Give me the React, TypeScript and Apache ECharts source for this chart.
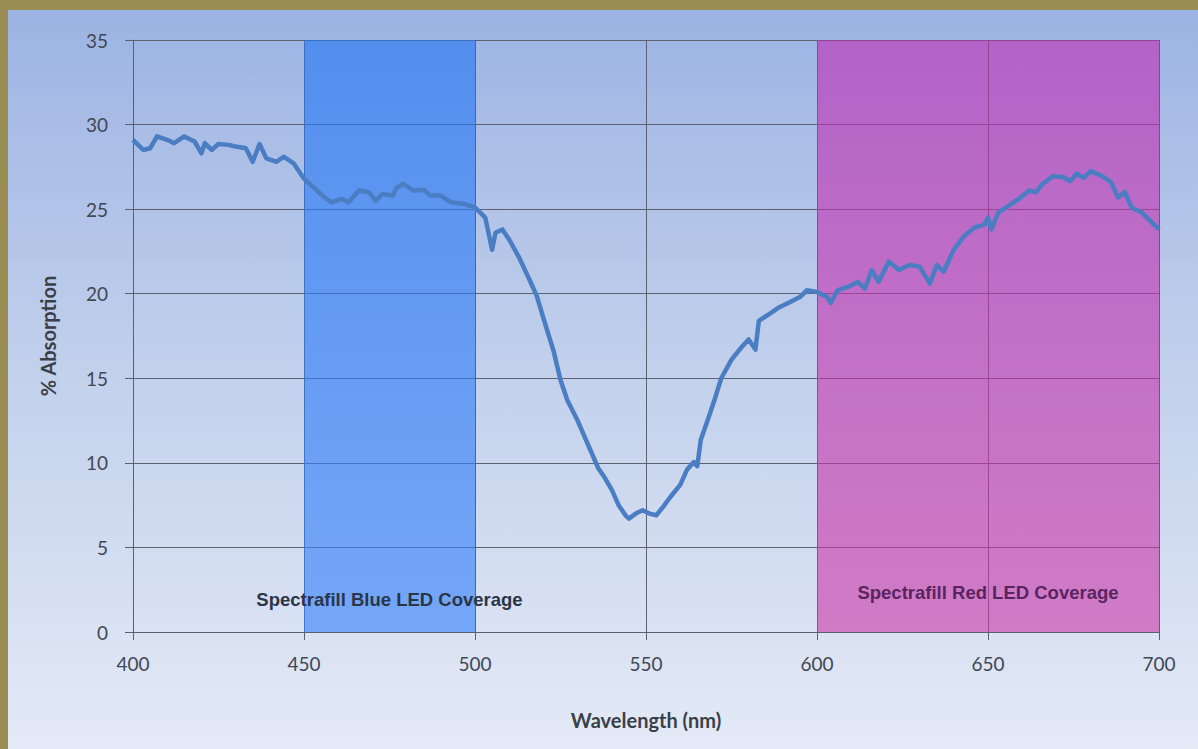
import React, { useEffect, useRef } from "react";
import * as echarts from "echarts";

const wavelengths = [
  400, 403, 405, 407, 410, 412, 415, 418, 420, 421, 423, 425, 428, 430, 433, 435, 437, 439, 442, 444, 447,
  450, 453, 456, 458, 461, 463, 466, 469, 471, 473, 476, 477, 479, 482, 485, 487, 490, 493, 497,
  500, 503, 505, 506, 508, 510, 513, 516, 518, 521, 523, 525, 527, 530, 533, 536, 538, 540, 542, 544, 545, 547, 549,
  551, 553, 555, 557, 560, 562, 564, 565, 566, 568, 570, 572, 575, 578, 580, 582, 583, 586, 589, 592, 595, 597,
  600, 603, 604, 606, 609, 612, 614, 616, 618, 621, 624, 627, 630, 633, 635, 637, 640, 643, 646, 649,
  650, 651, 653, 656, 659, 662, 664, 666, 669, 672, 674, 676, 678, 680, 683, 686, 688, 690, 692, 695, 697, 700,
];
const absorption = [
  29.1, 28.5, 28.6, 29.3, 29.1, 28.9, 29.3, 29.0, 28.3, 28.9, 28.5, 28.85, 28.8, 28.7, 28.6, 27.8, 28.85, 28.0, 27.8, 28.1, 27.7,
  26.8, 26.25, 25.7, 25.4, 25.6, 25.4, 26.1, 26.0, 25.5, 25.9, 25.8, 26.25, 26.5, 26.1, 26.15, 25.8, 25.8, 25.4, 25.3,
  25.1, 24.5, 22.6, 23.6, 23.8, 23.2, 22.1, 20.8, 19.9, 17.9, 16.6, 14.9, 13.7, 12.5, 11.1, 9.7, 9.1, 8.4, 7.5, 6.9, 6.7, 7.0, 7.2,
  7.0, 6.9, 7.4, 7.95, 8.7, 9.6, 10.05, 9.8, 11.35, 12.5, 13.7, 15.0, 16.1, 16.85, 17.3, 16.7, 18.4, 18.8, 19.2, 19.5, 19.8, 20.2,
  20.1, 19.8, 19.45, 20.2, 20.4, 20.7, 20.3, 21.4, 20.7, 21.9, 21.4, 21.7, 21.6, 20.6, 21.7, 21.3, 22.6, 23.4, 23.9, 24.1,
  24.5, 23.8, 24.8, 25.2, 25.6, 26.1, 26.0, 26.5, 26.95, 26.9, 26.65, 27.1, 26.85, 27.25, 27.0, 26.6, 25.7, 26.0, 25.1, 24.8, 24.4, 23.8,
];

const xTicks = { min: 400, max: 700, interval: 50 };
const yTicks = { min: 0, max: 35, interval: 5 };

const blueBand = [450, 500];
const redBand = [600, 700];
const blueLabel = "Spectrafill Blue LED Coverage";
const redLabel = "Spectrafill Red LED Coverage";

export default function App() {
  const ref = useRef<HTMLDivElement>(null);
  useEffect(() => {
    if (!ref.current) return;
    const chart = echarts.init(ref.current, undefined, { renderer: "svg" });
    const font = "Lato, 'Open Sans', sans-serif";
    const bandFont = "'Liberation Sans', Arial, sans-serif";
    chart.setOption({
      animation: false,
      backgroundColor: new echarts.graphic.LinearGradient(0, 0, 0, 1, [
        { offset: 0, color: "#9cb3e3" },
        { offset: 0.5, color: "#c3d1ec" },
        { offset: 1, color: "#e4eaf6" },
      ]),
      grid: { left: 125, top: 30, right: 39, bottom: 117 },
      xAxis: {
        type: "value",
        min: xTicks.min,
        max: xTicks.max,
        interval: xTicks.interval,
        name: "Wavelength (nm)",
        nameLocation: "middle",
        nameGap: 78,
        nameTextStyle: { fontFamily: font, fontWeight: "bold", fontSize: 20, color: "#3a3f48" },
        axisLine: { show: true, lineStyle: { color: "#5a606c", width: 1 } },
        axisTick: { show: true, length: 8, lineStyle: { color: "#5a606c" } },
        axisLabel: { fontFamily: font, fontSize: 19, color: "#414854", margin: 22 },
        splitLine: { show: true, lineStyle: { color: "#5c6370", width: 1 } },
      },
      yAxis: {
        type: "value",
        min: yTicks.min,
        max: yTicks.max,
        interval: yTicks.interval,
        name: "% Absorption",
        nameLocation: "middle",
        nameGap: 75,
        nameTextStyle: { fontFamily: font, fontWeight: "bold", fontSize: 20, color: "#3a3f48" },
        axisLine: { show: true, lineStyle: { color: "#5a606c", width: 1 } },
        axisTick: { show: true, length: 8, lineStyle: { color: "#5a606c" } },
        axisLabel: { fontFamily: font, fontSize: 19, color: "#414854", margin: 25 },
        splitLine: { show: true, lineStyle: { color: "#5c6370", width: 1 } },
      },
      series: [
        {
          type: "line",
          data: wavelengths.map((w, i) => [w, absorption[i]]),
          showSymbol: false,
          smooth: false,
          z: 2,
          lineStyle: { color: "#4a7dc1", width: 4.5, join: "round" },
        },
        {
          type: "line",
          data: [],
          z: 5,
          silent: true,
          markArea: {
            silent: true,
            data: [
              [
                {
                  xAxis: blueBand[0],
                  yAxis: yTicks.min,
                  itemStyle: {
                    color: new echarts.graphic.LinearGradient(0, 0, 0, 1, [
                      { offset: 0, color: "rgba(37,118,244,0.62)" },
                      { offset: 1, color: "rgba(54,130,250,0.62)" },
                    ]),
                  },
                  label: {
                    show: true,
                    formatter: blueLabel,
                    position: "insideBottom",
                    distance: 23,
                    fontFamily: bandFont,
                    fontWeight: "bold",
                    fontSize: 18.5,
                    color: "#2b3548",
                  },
                },
                { xAxis: blueBand[1], yAxis: yTicks.max },
              ],
              [
                {
                  xAxis: redBand[0],
                  yAxis: yTicks.min,
                  itemStyle: {
                    color: new echarts.graphic.LinearGradient(0, 0, 0, 1, [
                      { offset: 0, color: "rgba(190,44,180,0.6)" },
                      { offset: 1, color: "rgba(202,54,168,0.6)" },
                    ]),
                  },
                  label: {
                    show: true,
                    formatter: redLabel,
                    position: "insideBottom",
                    distance: 30,
                    fontFamily: bandFont,
                    fontWeight: "bold",
                    fontSize: 18.5,
                    color: "#5a2460",
                  },
                },
                { xAxis: redBand[1], yAxis: yTicks.max },
              ],
            ],
          },
        },
      ],
    });
    return () => chart.dispose();
  }, []);
  return (
    <div style={{ position: "absolute", left: 0, top: 0, width: 1198, height: 749, background: "#988c52" }}>
      <div ref={ref} style={{ position: "absolute", left: 8, top: 10, width: 1190, height: 739 }} />
    </div>
  );
}
